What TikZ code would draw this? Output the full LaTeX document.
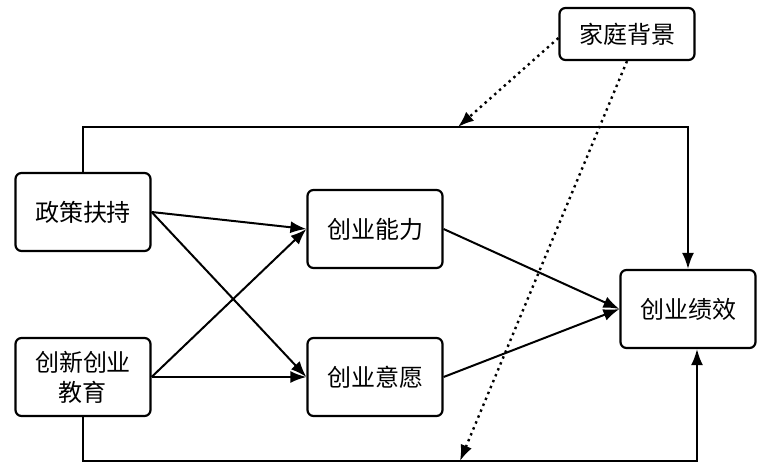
\documentclass[tikz,border=0pt]{standalone}
\usepackage{fontspec}
\usepackage{tikz}
\usetikzlibrary{arrows.meta}
\newfontfamily\cjk{Noto Sans CJK SC}

\tikzset{
    factor/.style={draw, line width=1.1pt, rounded corners=3pt, minimum width=67.5pt,
        minimum height=39pt, align=center, font=\cjk\fontsize{12}{15}\selectfont},
    link/.style={-{Latex[length=8pt,width=6pt]}, line width=1pt},
    hint/.style={-{Latex[length=8pt,width=6pt]}, line width=1.2pt, dotted}
}

\begin{document}
\begin{tikzpicture}[x=0.5pt,y=-0.5pt]
            \useasboundingbox (0,0) rectangle (762,465);

            \node[factor, minimum height=26pt] (jt) at (627,34) {家庭背景};
            \node[factor] (zc) at (83,212) {政策扶持};
            \node[factor] (jy) at (83,377) {创新创业\\教育};
            \node[factor] (nl) at (375,229) {创业能力};
            \node[factor] (yy) at (375,377) {创业意愿};
            \node[factor] (jx) at (688,309) {创业绩效};

            \coordinate (ta) at (458,127);
            \coordinate (tb) at (460,461);

            \draw[link] (zc.east) -- (nl.west);
            \draw[link] (zc.east) -- (yy.west);
            \draw[link] (jy.east) -- (nl.west);
            \draw[link] (jy.east) -- (yy.west);

            \draw[link] (nl.east) -- (jx.west);
            \draw[link] (yy.east) -- (jx.west);

            \draw[link] (zc.north) -- (zc.north |- ta) -| (jx.north);
            \draw[link] (jy.south) -- (jy.south |- tb) -| ([xshift=4.5pt]jx.south);

            \draw[hint] ([yshift=-2pt]jt.west) -- (ta);
            \draw[hint] (jt.south) -- (tb);
        \end{tikzpicture}
\end{document}
